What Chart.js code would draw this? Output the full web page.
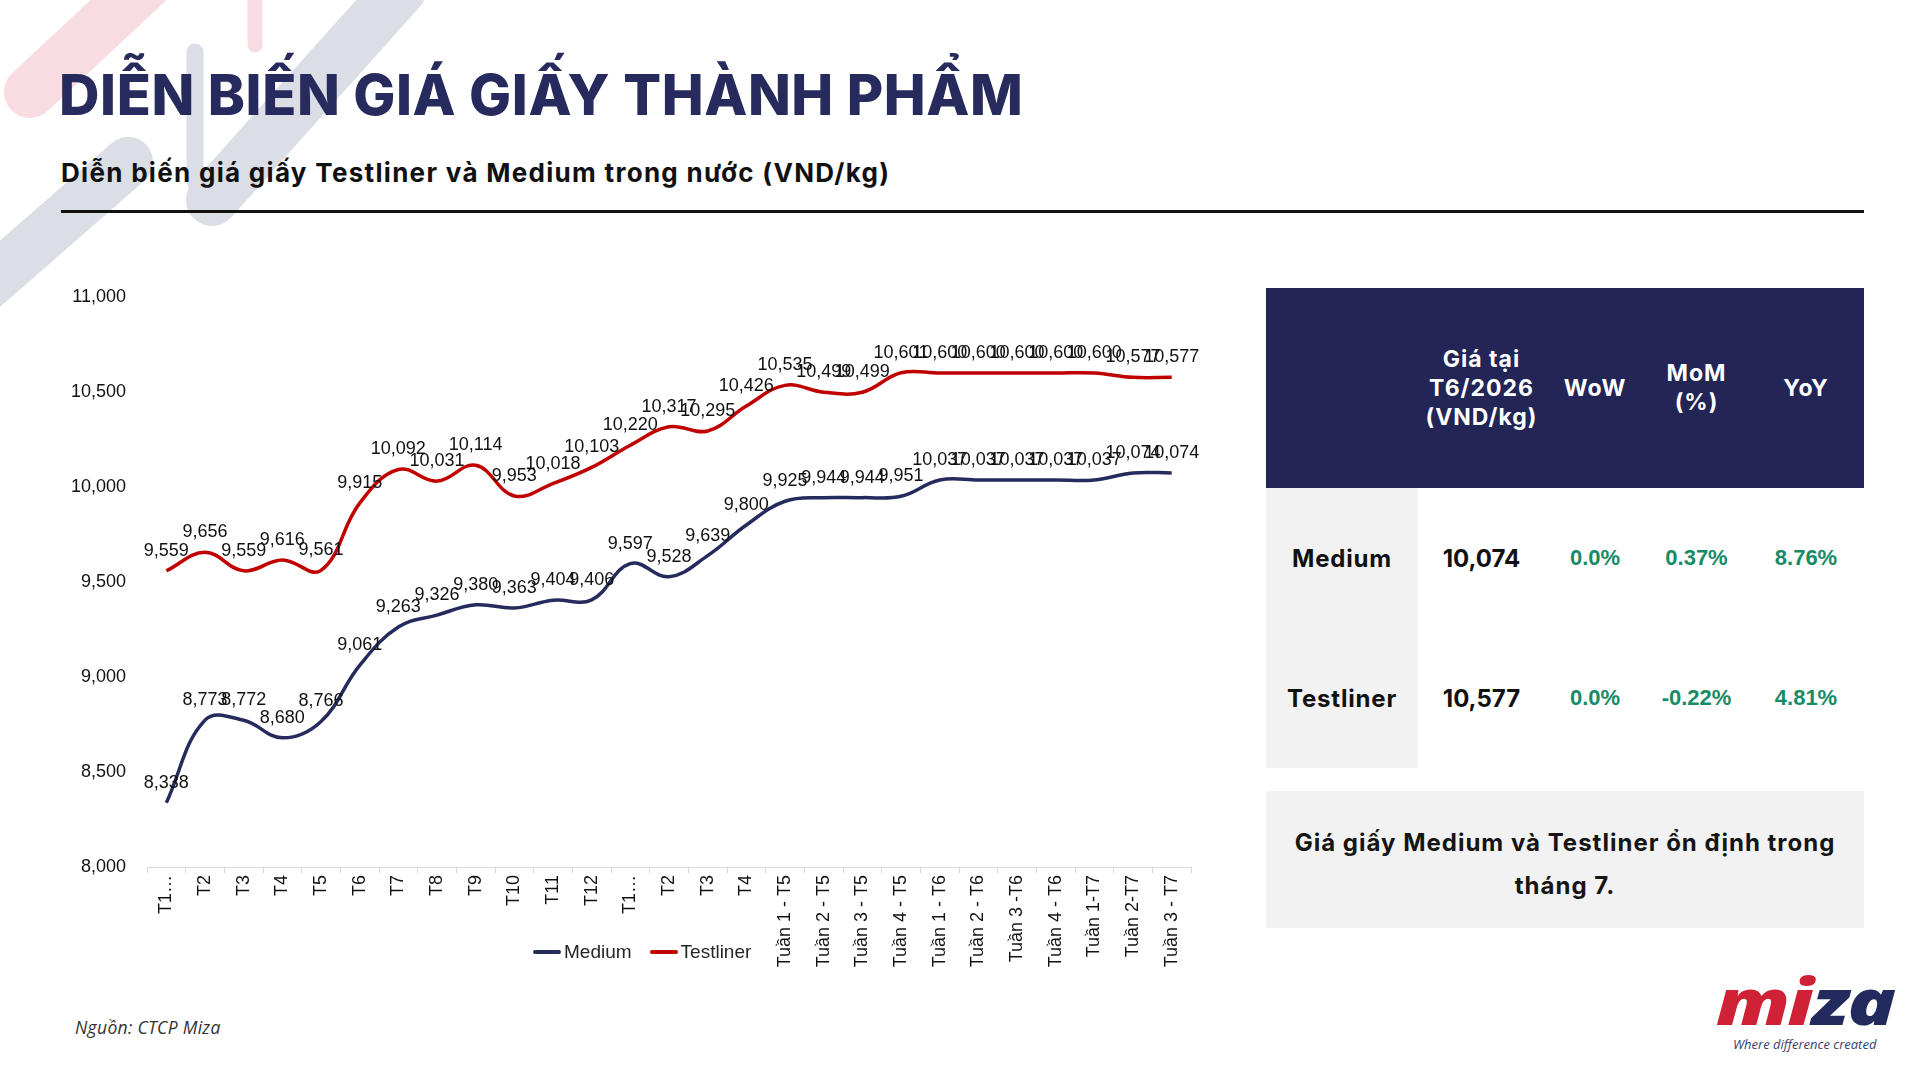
<!DOCTYPE html>
<html>
<head>
<meta charset="utf-8">
<script src="https://cdn.jsdelivr.net/npm/chart.js@4.4.1/dist/chart.umd.min.js"></script>
<style>
  html, body { margin: 0; padding: 0; }
  body { width: 1920px; height: 1080px; position: relative; overflow: hidden; background: #fff; font-family: Inter, "Noto Sans", sans-serif; }
  .deco { position: absolute; left: 0; top: 0; }
  .title { position: absolute; left: 59px; top: 67px; margin: 0; font-size: 56px; font-weight: 800; color: #262A5C; letter-spacing: 0.6px; line-height: 1; }
  .subtitle { position: absolute; left: 61px; top: 157px; font-size: 26px; font-weight: 700; color: #111; letter-spacing: 1.3px; }
  .rule { position: absolute; left: 61px; top: 210px; width: 1803px; height: 3px; background: #111; }
  .chart-wrap { position: absolute; left: 0; top: 260px; width: 1220px; height: 720px; }
  .legend { position: absolute; left: 533px; top: 941px; display: flex; align-items: center; font-family: "Liberation Sans", Arial, sans-serif; font-size: 19px; color: #262626; }
  .legend span.sw { display: inline-block; width: 28px; height: 4px; border-radius: 2px; margin-right: 3px; }
  .legend span.item { display: inline-flex; align-items: center; margin-right: 18px; }
  table.summary { position: absolute; left: 1266px; top: 288px; width: 598px; border-collapse: collapse; table-layout: fixed; }
  table.summary th { background: #222556; color: #fff; font-size: 23px; font-weight: 700; line-height: 29px; height: 200px; padding: 0; text-align: center; vertical-align: middle; letter-spacing: 1px; }
  table.summary td { height: 140px; padding: 0; text-align: center; vertical-align: middle; }
  table.summary td.name { background: #F2F2F2; font-size: 24px; font-weight: 700; color: #111; letter-spacing: 0.8px; }
  table.summary td.price { font-size: 24px; font-weight: 700; color: #111; }
  table.summary td.pct { font-family: "Liberation Sans", Arial, sans-serif; font-size: 22px; font-weight: 700; color: #168B66; }
  .note { position: absolute; left: 1266px; top: 791px; width: 598px; height: 137px; background: #F2F2F2; display: flex; align-items: center; justify-content: center; text-align: center; font-size: 24px; font-weight: 700; line-height: 43px; color: #151515; padding-top: 8px; box-sizing: border-box; letter-spacing: 1px; }
  .source { position: absolute; left: 75px; top: 1015px; font-family: "Open Sans", "Noto Sans", sans-serif; font-style: italic; font-size: 17.5px; color: #333; letter-spacing: 0.3px; }
  .logo { position: absolute; left: 1716px; top: 969px; font-family: "Noto Sans", sans-serif; font-weight: 900; font-style: italic; font-size: 64px; line-height: 1; letter-spacing: -2px; transform: scaleX(1.25); transform-origin: left top; }
  .logo .r { color: #CF2236; }
  .logo .b { color: #232A5E; }
  .tagline { position: absolute; left: 1733px; top: 1035px; font-family: "Open Sans", "Noto Sans", sans-serif; font-style: italic; font-size: 13px; color: #3A3F6B; }
</style>
</head>
<body>
<svg class="deco" width="460" height="320" viewBox="0 0 460 320">
  <g fill="none" stroke-linecap="round" stroke-linejoin="round">
    <path d="M 30 92 L 150 -20" stroke="#F7DDE1" stroke-width="52"/>
    <path d="M 255 -5 L 255 45" stroke="#F7DDE1" stroke-width="15"/>
    <path d="M -30 300 L 128 162" stroke="#DCDEE6" stroke-width="50"/>
    <path d="M 195 52 L 195 175 Q 196 205 222 192 L 420 -20" stroke="#DCDEE6" stroke-width="17"/>
    <path d="M 212 200 L 400 -10" stroke="#DCDEE6" stroke-width="52"/>
  </g>
</svg>

<h1 class="title">DIỄN BIẾN GIÁ GIẤY THÀNH PHẨM</h1>
<div class="subtitle">Diễn biến giá giấy Testliner và Medium trong nước (VND/kg)</div>
<div class="rule"></div>

<div class="chart-wrap"><canvas id="chart-price"></canvas></div>
<div class="legend" id="legend"></div>

<table class="summary" id="summary">
  <colgroup>
    <col style="width:152px"><col style="width:127px"><col style="width:100px"><col style="width:103px"><col style="width:116px">
  </colgroup>
  <thead><tr id="summary-head"></tr></thead>
  <tbody id="summary-body"></tbody>
</table>

<div class="note">Giá giấy Medium và Testliner ổn định trong<br>tháng 7.</div>

<div class="source">Nguồn: CTCP Miza</div>
<div class="logo"><span class="r">mi</span><span class="b">za</span></div>
<div class="tagline">Where difference created</div>

<script>
// Diễn biến giá giấy – dữ liệu

const categories = [
  'T1…', 'T2', 'T3', 'T4', 'T5', 'T6', 'T7', 'T8', 'T9', 'T10', 'T11', 'T12',
  'T1…', 'T2', 'T3', 'T4',
  'Tuần 1 - T5', 'Tuần 2 - T5', 'Tuần 3 - T5', 'Tuần 4 - T5',
  'Tuần 1 - T6', 'Tuần 2 - T6', 'Tuần 3 -T6', 'Tuần 4 - T6',
  'Tuần 1-T7', 'Tuần 2-T7', 'Tuần 3 - T7',
];

const mediumPrices = [
  8338, 8773, 8772, 8680, 8766, 9061, 9263, 9326, 9380, 9363, 9404, 9406,
  9597, 9528, 9639, 9800,
  9925, 9944, 9944, 9951,
  10037, 10037, 10037, 10037,
  10037, 10074, 10074,
];

const testlinerPrices = [
  9559, 9656, 9559, 9616, 9561, 9915, 10092, 10031, 10114, 9953, 10018, 10103,
  10220, 10317, 10295, 10426,
  10535, 10499, 10499, 10601,
  10600, 10600, 10600, 10600,
  10600, 10577, 10577,
];

const yMin = 8000;
const yMax = 11000;
const yStep = 500;

// bảng tóm tắt
const headCols = ['', 'Giá tại<br>T6/2026<br>(VND/kg)', 'WoW', 'MoM<br>(%)', 'YoY'];
const rowNames = ['Medium', 'Testliner'];
const rowPrice = ['10,074', '10,577'];
const rowWoW = ['0.0%', '0.0%'];
const rowMoM = ['0.37%', '-0.22%'];
const rowYoY = ['8.76%', '4.81%'];

const fmt = v => v.toLocaleString('en-US');

// nhãn giá trị trên mỗi điểm
const pointLabels = {
  id: 'pointLabels',
  afterDatasetsDraw(chart) {
    const ctx = chart.ctx;
    ctx.save();
    ctx.font = '18px "Liberation Sans", Arial, sans-serif';
    ctx.fillStyle = '#111';
    ctx.textAlign = 'center';
    ctx.textBaseline = 'middle';
    chart.data.datasets.forEach((ds, i) => {
      chart.getDatasetMeta(i).data.forEach((pt, j) => {
        ctx.fillText(fmt(ds.data[j]), pt.x, pt.y - 20);
      });
    });
    ctx.restore();
  },
};

function renderSummary() {
  document.getElementById('summary-head').innerHTML = headCols.map(h => `<th>${h}</th>`).join('');
  document.getElementById('summary-body').innerHTML = rowNames.map((n, i) => `
    <tr>
      <td class="name">${n}</td>
      <td class="price">${rowPrice[i]}</td>
      <td class="pct">${rowWoW[i]}</td>
      <td class="pct">${rowMoM[i]}</td>
      <td class="pct">${rowYoY[i]}</td>
    </tr>`).join('');
}

function renderLegend(chart) {
  const el = document.getElementById('legend');
  el.innerHTML = chart.data.datasets.map(ds =>
    `<span class="item"><span class="sw" style="background:${ds.borderColor}"></span>${ds.label}</span>`
  ).join('');
}

const tickFont = { family: '"Liberation Sans", Arial, sans-serif', size: 18 };

const priceChart = new Chart(document.getElementById('chart-price'), {
  type: 'line',
  data: {
    labels: categories,
    datasets: [
      {
        label: 'Medium',
        data: mediumPrices,
        borderColor: '#262B5E',
        borderWidth: 3.5,
        tension: 0.4,
        pointRadius: 0,
        fill: false,
      },
      {
        label: 'Testliner',
        data: testlinerPrices,
        borderColor: '#C00000',
        borderWidth: 3.5,
        tension: 0.4,
        pointRadius: 0,
        fill: false,
      },
    ],
  },
  options: {
    responsive: true,
    maintainAspectRatio: false,
    animation: false,
    layout: { padding: { left: 0, right: 29, top: 37, bottom: 13 } },
    plugins: {
      legend: { display: false },
      tooltip: { enabled: false },
    },
    scales: {
      x: {
        offset: true,
        grid: { display: true, drawOnChartArea: false, drawTicks: true, tickLength: 6, offset: true, color: '#D9D9D9' },
        border: { color: '#D9D9D9', width: 1 },
        ticks: { autoSkip: false, minRotation: 90, maxRotation: 90, padding: 2, color: '#111', font: tickFont },
        afterFit: s => { s.height = 100; },
      },
      y: {
        min: yMin,
        max: yMax,
        grid: { display: false, drawTicks: false },
        border: { display: false },
        ticks: {
          stepSize: yStep,
          padding: 21,
          color: '#111',
          font: tickFont,
          callback: v => fmt(v),
        },
        afterFit: s => { s.width = 147; },
      },
    },
  },
  plugins: [pointLabels],
});

renderSummary();
renderLegend(priceChart);
</script>
</body>
</html>
